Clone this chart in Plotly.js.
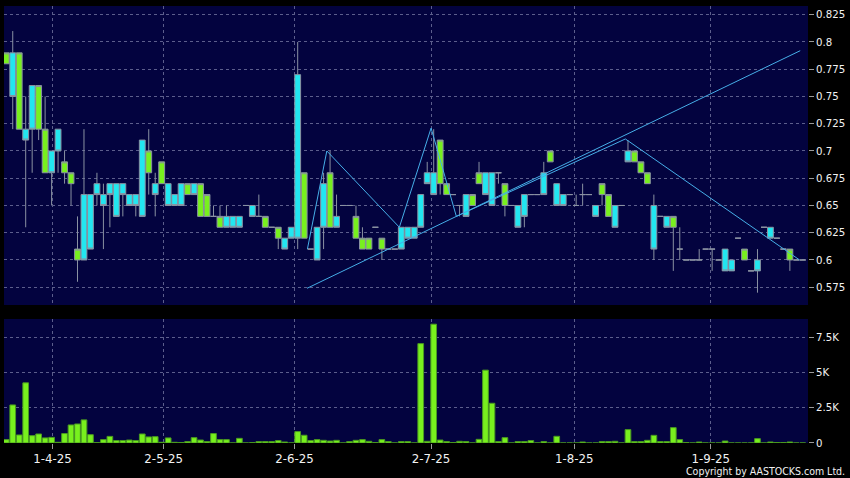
<!DOCTYPE html>
<html>
<head>
<meta charset="utf-8">
<script src="https://cdn.plot.ly/plotly-3.0.1.min.js"></script>
<style>
html,body{margin:0;padding:0;background:#000;}
#chart{width:850px;height:478px;}
</style>
</head>
<body>
<div id="chart"></div>
<script>
// ---- data (one entry per trading session, left to right) ----
const openP = [
0.78,0.79,0.72,0.72,0.76,0.72,0.68,0.70,0.72,0.68,
0.67,0.60,0.66,0.66,0.67,0.66,0.67,0.67,0.67,0.66,
0.66,0.71,0.68,0.67,0.67,0.67,0.66,0.67,0.66,0.67,
0.64,0.64,0.64,0.63,0.64,0.64,0.64,0.65,0.65,0.64,
0.63,0.63,0.62,0.62,0.63,0.77,0.62,0.61,0.63,0.67,
0.63,0.64,0.65,0.65,0.62,0.61,0.61,0.63,0.61,0.61,
0.61,0.63,0.63,0.63,0.66,0.68,0.68,0.67,0.66,0.66,
0.65,0.66,0.65,0.67,0.68,0.68,0.68,0.65,0.65,0.65,
0.66,0.66,0.66,0.68,0.69,0.67,0.66,0.66,0.65,0.66,
0.66,0.65,0.66,0.64,0.65,0.65,0.70,0.69,0.68,0.67,
0.65,0.64,0.64,0.63,0.61,0.60,0.60,0.60,0.61,0.61,
0.60,0.61,0.60,0.62,0.60,0.59,0.60,0.63,0.63,0.62,
0.61,0.60,0.60,0.60];
const highP = [
0.79,0.81,0.79,0.75,0.76,0.76,0.75,0.70,0.72,0.70,
0.68,0.64,0.72,0.66,0.68,0.67,0.67,0.67,0.67,0.66,
0.66,0.71,0.72,0.68,0.69,0.67,0.66,0.67,0.67,0.67,
0.67,0.66,0.65,0.65,0.65,0.64,0.64,0.65,0.65,0.66,
0.64,0.63,0.63,0.62,0.63,0.80,0.68,0.61,0.63,0.68,
0.70,0.66,0.65,0.65,0.65,0.63,0.62,0.63,0.62,0.61,
0.61,0.63,0.63,0.63,0.66,0.69,0.72,0.71,0.67,0.66,
0.65,0.66,0.66,0.69,0.68,0.68,0.68,0.67,0.65,0.65,
0.66,0.66,0.66,0.69,0.70,0.67,0.66,0.66,0.66,0.67,
0.66,0.65,0.67,0.66,0.65,0.65,0.71,0.70,0.69,0.68,
0.66,0.64,0.64,0.64,0.63,0.60,0.60,0.61,0.61,0.61,
0.60,0.61,0.60,0.62,0.61,0.59,0.61,0.63,0.63,0.62,
0.61,0.61,0.60,0.60];
const lowP = [
0.78,0.72,0.72,0.63,0.68,0.71,0.68,0.65,0.68,0.67,
0.65,0.58,0.60,0.61,0.65,0.61,0.63,0.64,0.64,0.65,
0.64,0.64,0.66,0.64,0.67,0.65,0.65,0.65,0.66,0.66,
0.64,0.64,0.64,0.63,0.63,0.63,0.63,0.65,0.64,0.64,
0.63,0.63,0.61,0.61,0.62,0.61,0.62,0.61,0.60,0.61,
0.63,0.63,0.65,0.65,0.62,0.61,0.61,0.63,0.60,0.61,
0.61,0.61,0.62,0.62,0.63,0.67,0.66,0.66,0.66,0.66,
0.64,0.64,0.65,0.67,0.66,0.65,0.67,0.64,0.65,0.63,
0.63,0.66,0.66,0.66,0.69,0.65,0.65,0.66,0.65,0.65,
0.66,0.64,0.65,0.64,0.63,0.65,0.69,0.69,0.68,0.67,
0.60,0.64,0.63,0.59,0.60,0.60,0.60,0.60,0.61,0.59,
0.60,0.59,0.59,0.62,0.60,0.59,0.57,0.63,0.62,0.62,
0.61,0.59,0.60,0.60];
const closeP = [
0.79,0.75,0.79,0.71,0.72,0.76,0.72,0.68,0.70,0.69,
0.68,0.61,0.60,0.61,0.66,0.65,0.66,0.64,0.66,0.65,
0.65,0.64,0.70,0.66,0.69,0.65,0.65,0.65,0.67,0.66,
0.67,0.66,0.64,0.64,0.63,0.63,0.63,0.65,0.64,0.64,
0.64,0.63,0.63,0.61,0.62,0.62,0.68,0.61,0.60,0.63,
0.68,0.63,0.65,0.65,0.64,0.62,0.62,0.63,0.62,0.61,
0.61,0.61,0.62,0.62,0.63,0.67,0.66,0.71,0.67,0.66,
0.65,0.64,0.66,0.68,0.66,0.65,0.68,0.67,0.65,0.63,
0.64,0.66,0.66,0.66,0.70,0.65,0.65,0.66,0.65,0.66,
0.66,0.64,0.67,0.66,0.63,0.65,0.69,0.70,0.69,0.68,
0.61,0.64,0.63,0.64,0.61,0.60,0.60,0.60,0.61,0.61,
0.60,0.59,0.59,0.62,0.61,0.59,0.59,0.63,0.62,0.62,
0.61,0.61,0.60,0.60];
const volume = [
240,2700,570,4270,520,640,360,400,50,670,
1280,1350,1640,590,20,240,470,170,170,210,
170,640,430,450,50,360,50,30,100,380,
210,100,670,240,240,0,330,0,25,100,
100,100,170,70,0,810,550,170,240,190,
140,190,0,100,190,240,120,25,240,100,
0,100,100,0,7050,120,8430,210,100,30,
120,100,0,260,5170,2820,100,380,0,100,
100,170,0,100,0,475,0,0,0,70,
0,0,100,100,120,0,950,100,100,190,
545,100,100,1090,240,30,0,70,0,0,
0,140,0,0,0,0,310,0,70,30,
30,70,0,0];
// trend lines drawn on the chart (session index, price)
const trendX = [46.44, 122.6];
const trendY = [0.574, 0.792];
const zigzagX = [46.5, 49.5, 60.7, 65.6, 69.5, 95.6, 122.5];
const zigzagY = [0.61, 0.70, 0.63, 0.721, 0.64, 0.711, 0.60];
// tick labels
const dateTickLabels = ['1-4-25','2-5-25','2-6-25','2-7-25','1-8-25','1-9-25'];
const dateTickIdx = [7.15, 24.3, 44.5, 65.6, 87.7, 108.8];
const priceTicks = [0.575,0.6,0.625,0.65,0.675,0.7,0.725,0.75,0.775,0.8,0.825];
const priceTickLabels = ['0.575','0.6','0.625','0.65','0.675','0.7','0.725','0.75','0.775','0.8','0.825'];
const volTicks = [0,2500,5000,7500];
const volTickLabels = ['0','2.5K','5K','7.5K'];

const idx = openP.map((_, i) => i);

const GREEN = '#78f01e', CYAN = '#22e6f0', EDGE = '#8a92a2', LINE = '#46aee8';
const GRID = '#5c5e8c';

const traces = [
  {
    type: 'candlestick', x: idx, open: openP, high: highP, low: lowP, close: closeP,
    xaxis: 'x', yaxis: 'y',
    increasing: {fillcolor: GREEN, line: {color: EDGE, width: 1}},
    decreasing: {fillcolor: CYAN, line: {color: EDGE, width: 1}},
    whiskerwidth: 0, hoverinfo: 'skip', showlegend: false
  },
  {
    type: 'scatter', mode: 'lines', x: trendX, y: trendY, xaxis: 'x', yaxis: 'y',
    line: {color: LINE, width: 1}, hoverinfo: 'skip', showlegend: false
  },
  {
    type: 'scatter', mode: 'lines', x: zigzagX, y: zigzagY, xaxis: 'x', yaxis: 'y',
    line: {color: LINE, width: 1}, hoverinfo: 'skip', showlegend: false
  },
  {
    type: 'bar', x: idx, y: volume, xaxis: 'x', yaxis: 'y2',
    marker: {color: GREEN, line: {color: '#4a9a20', width: 1}},
    hoverinfo: 'skip', showlegend: false
  }
];

const tickFont = {family: 'DejaVu Sans, Verdana, sans-serif', size: 10.2, color: '#f2f2f2'};

const layout = {
  width: 850, height: 478,
  paper_bgcolor: '#000000', plot_bgcolor: '#03033f',
  margin: {l: 4, r: 42, t: 6, b: 35, pad: 0},
  showlegend: false,
  boxgap: 0.1, boxgroupgap: 0, bargap: 0.12,
  xaxis: {
    type: 'linear', range: [-0.35, 123.8], anchor: 'y2',
    tickvals: dateTickIdx, ticktext: dateTickLabels,
    tickfont: {family: 'DejaVu Sans, Verdana, sans-serif', size: 11.8, color: '#f2f2f2'},
    ticks: 'outside', ticklen: 5, tickcolor: '#9a9a9a', tickwidth: 1,
    showgrid: true, gridcolor: GRID, griddash: '3px,3px', gridwidth: 1,
    zeroline: false, showline: false,
    rangeslider: {visible: false}, fixedrange: true
  },
  yaxis: {
    domain: [0.3158, 1], anchor: 'x', side: 'right',
    range: [0.5587, 0.833],
    tickvals: priceTicks, ticktext: priceTickLabels, tickfont: tickFont,
    ticks: 'outside', ticklen: 5, tickcolor: '#9a9a9a', tickwidth: 1,
    showgrid: true, gridcolor: GRID, griddash: '3px,3px', gridwidth: 1,
    zeroline: false, showline: false, fixedrange: true
  },
  yaxis2: {
    domain: [0, 0.2838], anchor: 'x', side: 'right',
    range: [0, 8800],
    tickvals: volTicks, ticktext: volTickLabels, tickfont: tickFont,
    ticks: 'outside', ticklen: 5, tickcolor: '#9a9a9a', tickwidth: 1,
    showgrid: true, gridcolor: GRID, griddash: '3px,3px', gridwidth: 1,
    zeroline: false, showline: false, fixedrange: true
  },
  annotations: [{
    text: 'Copyright by AASTOCKS.com Ltd.', showarrow: false,
    xref: 'paper', yref: 'paper', x: 1.048, y: -0.064,
    xanchor: 'right', yanchor: 'middle',
    font: {family: 'DejaVu Sans Condensed, DejaVu Sans, sans-serif', size: 10.5, color: '#f2f2f2'}
  }]
};

Plotly.newPlot('chart', traces, layout, {displayModeBar: false, staticPlot: true});
</script>
</body>
</html>
